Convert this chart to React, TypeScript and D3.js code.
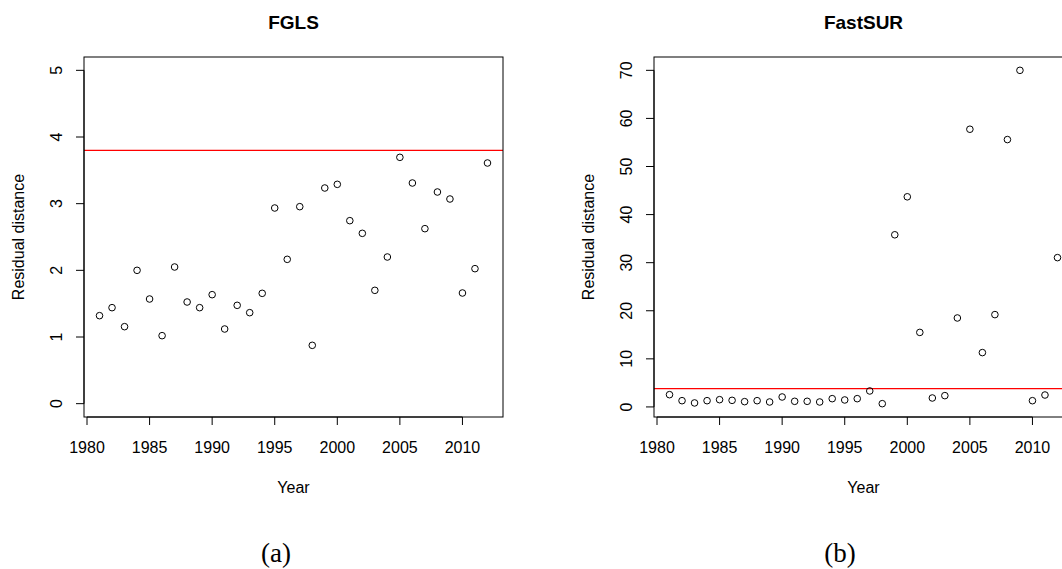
import React from 'react';
import * as d3 from 'd3';

// years 1981..2012
const years = [
  1981, 1982, 1983, 1984, 1985, 1986, 1987, 1988, 1989, 1990, 1991,
  1992, 1993, 1994, 1995, 1996, 1997, 1998, 1999, 2000, 2001, 2002,
  2003, 2004, 2005, 2006, 2007, 2008, 2009, 2010, 2011, 2012,
];
const fglsDist = [
  1.32, 1.44, 1.155, 2.0, 1.57, 1.02, 2.05, 1.525, 1.44, 1.635, 1.12,
  1.475, 1.365, 1.655, 2.935, 2.165, 2.955, 0.875, 3.235, 3.29, 2.745,
  2.555, 1.7, 2.2, 3.695, 3.31, 2.625, 3.175, 3.07, 1.66, 2.025, 3.61,
];
const fastSurDist = [
  2.55, 1.3, 0.83, 1.3, 1.51, 1.37, 1.1, 1.3, 1.03, 2.07, 1.17,
  1.17, 1.03, 1.72, 1.45, 1.72, 3.32, 0.68, 35.8, 43.7, 15.5,
  1.86, 2.35, 18.5, 57.75, 11.3, 19.2, 55.6, 70.0, 1.3, 2.48, 31.05,
];
const cutoff = 3.8;
const xTicks = [1980, 1985, 1990, 1995, 2000, 2005, 2010];
const fglsTicks = [0, 1, 2, 3, 4, 5];
const fastSurTicks = [0, 10, 20, 30, 40, 50, 60, 70];

const sans = '"Liberation Sans", Arial, Helvetica, sans-serif';
const top = 57;
const bottom = 417;

// R style axis extension (4%)
function pad(lo: number, hi: number) {
  const d = (hi - lo) * 0.04;
  return [lo - d, hi + d];
}

function Panel(props: any) {
  const { left, right, title, values, ylim, yTicks, tag, tagX } = props;
  const x = d3.scaleLinear()
    .domain(pad(d3.min(years)!, d3.max(years)!))
    .range([left, right]);
  const y = d3.scaleLinear()
    .domain(pad(ylim[0], ylim[1]))
    .range([bottom, top]);
  const mid = (left + right) / 2;

  return (
    <g>
      <text x={mid} y={22} textAnchor="middle" dominantBaseline="central"
        fontFamily={sans} fontWeight="bold" fontSize={19}>{title}</text>
      <line x1={left} x2={right} y1={y(cutoff)} y2={y(cutoff)} stroke="#ff0000" strokeWidth={1.3} />
      {values.map((v: number, i: number) => (
        <circle key={i} cx={x(years[i])} cy={y(v)} r={3.3} fill="none" stroke="#000" strokeWidth={1} />
      ))}
      <rect x={left} y={top} width={right - left} height={bottom - top} fill="none" stroke="#000" strokeWidth={1} />
      {xTicks.map((t) => (
        <g key={t}>
          <line x1={x(t)} x2={x(t)} y1={bottom} y2={bottom + 8} stroke="#000" />
          <text x={x(t)} y={447} textAnchor="middle" dominantBaseline="central"
            fontFamily={sans} fontSize={16}>{t}</text>
        </g>
      ))}
      <line x1={x(xTicks[0])} x2={x(xTicks[xTicks.length - 1])} y1={bottom} y2={bottom} stroke="#000" />
      <line x1={left} x2={left} y1={y(yTicks[0])} y2={y(yTicks[yTicks.length - 1])} stroke="#000" />
      {yTicks.map((t: number) => (
        <g key={t}>
          <line x1={left - 8} x2={left} y1={y(t)} y2={y(t)} stroke="#000" />
          <text transform={`translate(${left - 28},${y(t)}) rotate(-90)`} textAnchor="middle"
            dominantBaseline="central" fontFamily={sans} fontSize={16}>{t}</text>
        </g>
      ))}
      <text x={mid} y={487} textAnchor="middle" dominantBaseline="central"
        fontFamily={sans} fontSize={16}>Year</text>
      <text transform={`translate(${left - 66},${(top + bottom) / 2}) rotate(-90)`} textAnchor="middle"
        dominantBaseline="central" fontFamily={sans} fontSize={16}>Residual distance</text>
      <text x={tagX} y={553} textAnchor="middle" dominantBaseline="central"
        fontFamily='"Liberation Serif", "Times New Roman", serif' fontSize={27}>{tag}</text>
    </g>
  );
}

export default function App() {
  return (
    <svg width={1062} height={569} style={{ position: 'absolute', left: 0, top: 0, background: '#fff' }}>
      <rect width={1062} height={569} fill="#fff" />
      <Panel left={84} right={503} title="FGLS" values={fglsDist}
        ylim={[0, 5]} yTicks={fglsTicks} tag="(a)" tagX={276} />
      <Panel left={654} right={1073} title="FastSUR" values={fastSurDist}
        ylim={[d3.min(fastSurDist)!, d3.max(fastSurDist)!]} yTicks={fastSurTicks} tag="(b)" tagX={840} />
    </svg>
  );
}
